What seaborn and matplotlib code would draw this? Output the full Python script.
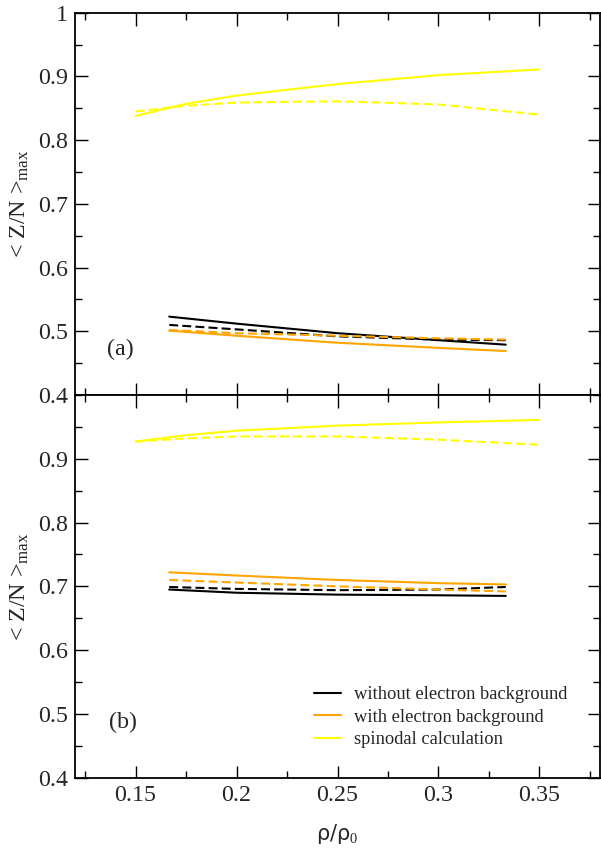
import numpy as np
import pandas as pd
import matplotlib
matplotlib.use("Agg")
import matplotlib.pyplot as plt
import seaborn as sns
from matplotlib.ticker import MultipleLocator, FixedLocator, FixedFormatter

sns.set_style("white")
plt.rcParams['font.family'] = ['Liberation Serif', 'DejaVu Serif']
plt.rcParams['mathtext.fontset'] = 'custom'
plt.rcParams['mathtext.rm'] = 'Liberation Serif'
plt.rcParams['mathtext.it'] = 'Liberation Serif:italic'

# x grids
x_spin = [0.15, 0.175, 0.2, 0.25, 0.3, 0.35]
x_calc = [1/6, 0.2, 0.25, 0.3, 1/3]

# panel (a)
a_spin_solid = [0.838, 0.857, 0.870, 0.888, 0.902, 0.911]
a_spin_dash = [0.845, 0.854, 0.859, 0.861, 0.856, 0.840]
a_black_solid = [0.523, 0.512, 0.497, 0.486, 0.479]
a_black_dash = [0.510, 0.503, 0.492, 0.487, 0.486]
a_orange_solid = [0.501, 0.493, 0.482, 0.474, 0.469]
a_orange_dash = [0.502, 0.497, 0.493, 0.489, 0.487]

# panel (b)
b_spin_solid = [0.927, 0.937, 0.944, 0.952, 0.957, 0.961]
b_spin_dash = [0.927, 0.932, 0.935, 0.935, 0.930, 0.922]
b_black_solid = [0.695, 0.690, 0.687, 0.686, 0.685]
b_black_dash = [0.699, 0.696, 0.694, 0.695, 0.699]
b_orange_solid = [0.722, 0.717, 0.710, 0.705, 0.703]
b_orange_dash = [0.710, 0.706, 0.700, 0.695, 0.692]

legend_labels = ["without electron background", "with electron background", "spinodal calculation"]
yticks = [0.4, 0.5, 0.6, 0.7, 0.8, 0.9, 1.0]
ytick_labels = ["0.4", "0.5", "0.6", "0.7", "0.8", "0.9", "1"]
xticks = [0.15, 0.2, 0.25, 0.3, 0.35]
xtick_labels = ["0.15", "0.2", "0.25", "0.3", "0.35"]

BLACK = "#000000"
ORANGE = "#FFA500"
YELLOW = "#FFFF00"

FS = 17.3

fig = plt.figure(figsize=(6.01, 8.52), dpi=100)
L, R = 75/601, 600/601
ax_a = fig.add_axes([L, 1-395/852, R-L, (395-12.7)/852])
ax_b = fig.add_axes([L, 1-777.7/852, R-L, (777.7-395)/852])

LW = 1.5
DASH = (4.3, 2.0)

def draw(ax, x, y, color, dashed, label=None):
    df = pd.DataFrame({"x": x, "y": y})
    sns.lineplot(data=df, x="x", y="y", color=color, lw=LW, ax=ax,
                 label=label, legend=False, sort=False)
    if dashed:
        ax.lines[-1].set_dashes(DASH)

for ax, d in [(ax_a, (a_spin_solid, a_spin_dash, a_black_solid, a_black_dash, a_orange_solid, a_orange_dash)),
              (ax_b, (b_spin_solid, b_spin_dash, b_black_solid, b_black_dash, b_orange_solid, b_orange_dash))]:
    lab = ax is ax_b
    draw(ax, x_calc, d[2], BLACK, False, legend_labels[0] if lab else None)
    draw(ax, x_calc, d[4], ORANGE, False, legend_labels[1] if lab else None)
    draw(ax, x_spin, d[0], YELLOW, False, legend_labels[2] if lab else None)
    draw(ax, x_calc, d[3], BLACK, True)
    draw(ax, x_calc, d[5], ORANGE, True)
    draw(ax, x_spin, d[1], YELLOW, True)

    ax.set_xlim(0.12, 0.38)
    ax.set_ylim(0.4, 1.0)
    ax.xaxis.set_major_locator(FixedLocator(xticks))
    ax.xaxis.set_minor_locator(MultipleLocator(0.025))
    ax.yaxis.set_major_locator(FixedLocator(yticks))
    ax.yaxis.set_minor_locator(MultipleLocator(0.05))
    ax.yaxis.set_major_formatter(FixedFormatter(ytick_labels))
    ax.tick_params(which='both', direction='in', top=True, right=True,
                   bottom=True, left=True, color='black', width=1.0)
    ax.tick_params(which='major', length=9, labelsize=FS, pad=5)
    ax.tick_params(which='minor', length=5)
    for s in ax.spines.values():
        s.set_color('black')
        s.set_linewidth(1.3)
    ax.set_ylabel(r"< Z/N >$_{\mathrm{max}}$", fontsize=FS)
    ax.yaxis.set_label_coords(-0.083, 0.5)

ax_a.set_xlabel("")
ax_a.tick_params(labelbottom=False)
ax_b.xaxis.set_major_formatter(FixedFormatter(xtick_labels))
ax_b.set_yticks(yticks[:-1])
ax_b.yaxis.set_major_formatter(FixedFormatter(ytick_labels[:-1]))
ax_b.yaxis.set_minor_locator(MultipleLocator(0.05))
ax_b.set_xlabel(r"ρ/ρ$_0$", fontsize=15, labelpad=12, family=['DejaVu Sans'])

ax_a.text(0.1425, 0.471, "(a)", fontsize=FS, ha='center', va='center')
ax_b.text(0.1435, 0.486, "(b)", fontsize=FS, ha='center', va='center')

ax_b.legend(loc='lower left', bbox_to_anchor=(0.441, 0.057), frameon=False,
            fontsize=13.3, handlelength=1.46, handletextpad=0.7, labelspacing=0.3,
            borderaxespad=0)

fig.savefig("out.png", dpi=100)
